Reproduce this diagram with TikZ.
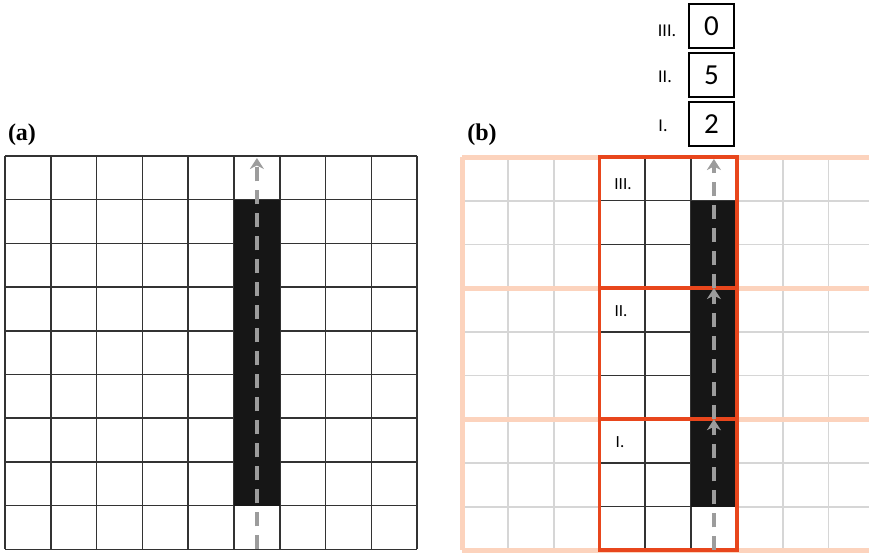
\documentclass[tikz,border=0pt]{standalone}
\usepackage{fontspec}
\newfontfamily\calfont{Carlito}
\newfontfamily\serfont{Liberation Serif}
\usetikzlibrary{arrows.meta}
\definecolor{peach}{HTML}{FCD3BD}
\definecolor{redbox}{HTML}{E8461C}
\definecolor{lgrid}{HTML}{D6D6D6}
\definecolor{dgrid}{HTML}{333333}
\definecolor{barcol}{HTML}{161616}
\definecolor{arrcol}{HTML}{9C9C9C}
\tikzset{
  gridA/.style={draw=dgrid, line width=1.5pt},
  gridL/.style={draw=lgrid, line width=1.8pt},
  band/.style={draw=peach, line width=5pt},
  redline/.style={draw=redbox, line width=3.8pt},
  barfill/.style={fill=barcol},
  dasharrow/.style={draw=arrcol, line width=3.4pt, dash pattern=on 14pt off 9pt, -{Stealth[length=11pt,width=14pt,inset=3.5pt]}},
  digitbox/.style={draw=black, line width=1.1pt, minimum width=45pt, minimum height=44pt, inner sep=0pt, font=\calfont\fontsize{29}{29}\selectfont},
  lvl/.style={inner sep=0pt, font=\calfont\fontsize{18}{18}\selectfont},
  inlbl/.style={inner sep=0pt, font=\calfont\fontsize{17}{17}\selectfont},
  panel/.style={inner sep=0pt, font=\serfont\bfseries\fontsize{24}{24}\selectfont}
}
\begin{document}
\begin{tikzpicture}[x=1pt,y=-1pt]
\useasboundingbox (0,0) rectangle (869,552);
\clip (0,0) rectangle (869,552);
\fill[white] (0,0) rectangle (869,552);
% ---------- panel (a) ----------
\def\cw{45.8}\def\rh{43.7}
\foreach \i in {0,...,9} \draw[gridA] ({5+\i*\cw},156) -- ({5+\i*\cw},{156+9*\rh});
\foreach \j in {0,...,9} \draw[gridA] (5,{156+\j*\rh}) -- ({5+9*\cw},{156+\j*\rh});
\fill[barfill] ({5+5*\cw},{156+\rh}) rectangle ({5+6*\cw},{156+8*\rh});
\coordinate (abot) at ({5+5.5*\cw},{156+9*\rh});
\coordinate (atop) at ({5+5.5*\cw},158);
\draw[dasharrow] (abot) -- (atop);
\node[panel] (la) at (22,135) {(a)};
% ---------- panel (b) ----------
\foreach \i in {0,...,9} \draw[gridL] ({462+\i*\cw},157) -- ({462+\i*\cw},{157+9*\rh});
\foreach \j in {0,...,9} \draw[gridL] (462,{157+\j*\rh}) -- ({462+9*\cw},{157+\j*\rh});
\foreach \j in {0,3,6,9} \draw[band] (462,{157+\j*\rh}) -- ({462+9*\cw},{157+\j*\rh});
\draw[band] (462,157) -- (462,{157+9*\rh});
\draw[band] ({462+9*\cw},157) -- ({462+9*\cw},{157+9*\rh});
% dark grid inside red boxes
\fill[white] ({462+3*\cw},157) rectangle ({462+6*\cw},{157+9*\rh});
\foreach \i in {4,5} \draw[gridA] ({462+\i*\cw},157) -- ({462+\i*\cw},{157+9*\rh});
\foreach \j in {1,2,4,5,7,8} \draw[gridA] ({462+3*\cw},{157+\j*\rh}) -- ({462+6*\cw},{157+\j*\rh});
\fill[barfill] ({462+5*\cw},{157+\rh}) rectangle ({462+6*\cw},{157+8*\rh});
% red boxes
\foreach \k in {0,3,6} \draw[redline] ({462+3*\cw},{157+\k*\rh}) rectangle ({462+6*\cw},{157+(\k+3)*\rh});
% arrows
\coordinate (b0) at ({462+5.5*\cw},{157+9*\rh});
\coordinate (b1) at ({462+5.5*\cw},{157+6*\rh});
\coordinate (b2) at ({462+5.5*\cw},{157+3*\rh});
\coordinate (b3) at ({462+5.5*\cw},159);
\draw[dasharrow] (b0) -- (b1);
\draw[dasharrow] (b1) -- (b2);
\draw[dasharrow] (b2) -- (b3);
\node[inlbl] (t3) at (623,184) {III.};
\node[inlbl] (t2) at (621,311) {II.};
\node[inlbl] (t1) at (620,442) {I.};
\node[panel] (lb) at (482,135) {(b)};
% ---------- digit boxes ----------
\node[digitbox] (d3) at (711.5,26) {0};
\node[digitbox] (d2) at (711.5,75) {5};
\node[digitbox] (d1) at (711.5,124) {2};
\node[lvl] (l3) at (667,31) {III.};
\node[lvl] (l2) at (665,77) {II.};
\node[lvl] (l1) at (663,126) {I.};
\end{tikzpicture}
\end{document}
